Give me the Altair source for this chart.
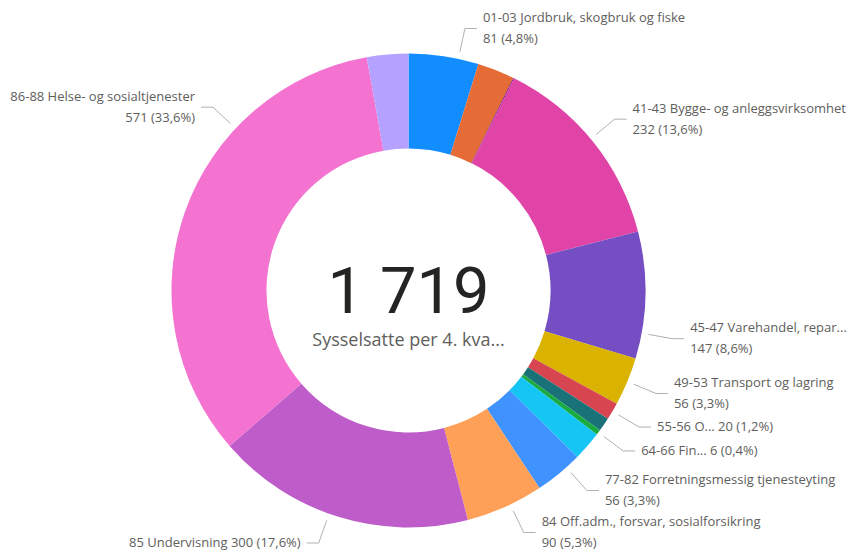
import math
import altair as alt
import pandas as pd

# ---------------- data ----------------
categories = [
    "01-03 Jordbruk, skogbruk og fiske",
    "10-33 Industri",
    "35-39 Elektrisitet, vann og renovasjon",
    "41-43 Bygge- og anleggsvirksomhet",
    "45-47 Varehandel, reparasjon av motorvogner",
    "49-53 Transport og lagring",
    "55-56 Overnattings- og serveringsvirksomhet",
    "58-63 Informasjon og kommunikasjon",
    "64-66 Finansiering og forsikring",
    "68-75 Teknisk tjenesteyting, eiendomsdrift",
    "77-82 Forretningsmessig tjenesteyting",
    "84 Off.adm., forsvar, sosialforsikring",
    "85 Undervisning",
    "86-88 Helse- og sosialtjenester",
    "90-99 Personlig tjenesteyting",
]
values = [81, 43, 1, 232, 147, 56, 20, 16, 6, 34, 56, 90, 300, 571, 48]
colors = ["#118DFF", "#E66C37", "#6B007B", "#E044A7", "#744EC2", "#D9B300",
          "#D64550", "#197278", "#1AAB40", "#15C6F4", "#4092FF", "#FFA058",
          "#BE5DC9", "#F472D0", "#B5A1FF"]
label_line1 = [
    "01-03 Jordbruk, skogbruk og fiske", "", "",
    "41-43 Bygge- og anleggsvirksomhet", "45-47 Varehandel, repar...",
    "49-53 Transport og lagring", "55-56 O... 20 (1,2%)", "",
    "64-66 Fin... 6 (0,4%)", "", "77-82 Forretningsmessig tjenesteyting",
    "84 Off.adm., forsvar, sosialforsikring", "85 Undervisning 300 (17,6%)",
    "86-88 Helse- og sosialtjenester", "",
]
label_line2 = [
    "81 (4,8%)", "", "", "232 (13,6%)", "147 (8,6%)", "56 (3,3%)", "", "",
    "", "", "56 (3,3%)", "90 (5,3%)", "", "571 (33,6%)", "",
]
center_value = "1 719"
center_caption = "Sysselsatte per 4. kva..."

# ---------------- layout ----------------
W, H = 840, 543
CX, CY = 400.5, 282.5          # donut centre inside the view (px)
R_OUT, R_IN = 237, 142
R_LINE0, R_ELBOW, H_SEG, TXT_GAP = 244, 268, 12, 6
FS = 13
LINE_H = 21
EDGE_TOP, EDGE_BOT = 10, 8
X_MIN, X_MAX = -CX + 2, W - CX - 1
Y_TOP, Y_BOT = CY - EDGE_TOP, -(H - CY) + EDGE_BOT

# approximate advance widths (em) of the label font
_EM = {' ': .26, '-': .322, ',': .245, '.': .266, '(': .297, ')': .297, '%': .823,
       'a': .556, 'b': .613, 'c': .476, 'd': .613, 'e': .561, 'f': .339, 'g': .548,
       'h': .614, 'i': .253, 'j': .253, 'k': .525, 'l': .253, 'm': .930, 'n': .614,
       'o': .604, 'p': .613, 'q': .613, 'r': .408, 's': .477, 't': .353, 'u': .614,
       'v': .501, 'w': .778, 'x': .507, 'y': .503, 'z': .468,
       'B': .642, 'F': .549, 'H': .742, 'J': .281, 'O': .781, 'V': .606, 'S': .55}


def text_w(s):
    return FS * sum(_EM.get(ch, .572 if ch.isdigit() else .62) for ch in s)


slices = pd.DataFrame({"category": categories, "value": values,
                       "idx": list(range(len(values)))})

total = float(sum(values))
labels = []
cum = 0.0
for i, v in enumerate(values):
    a0 = cum / total * 360.0
    a1 = (cum + v) / total * 360.0
    cum += v
    if not label_line1[i]:
        continue
    mid = (a0 + a1) / 2
    lo, hi = (a0 + 1, a1 - 1) if a1 - a0 > 2 else (mid, mid)
    right = mid < 180
    n = 2 if label_line2[i] else 1
    width = max(text_w(label_line1[i]), text_w(label_line2[i]))

    def fits(a, right=right, width=width):
        ex = R_ELBOW * math.sin(math.radians(a))
        if right:
            return ex + H_SEG + TXT_GAP + width <= X_MAX
        return ex - H_SEG - TXT_GAP - width >= X_MIN

    a = mid
    if not fits(a):
        towards_hi = (right and mid >= 90) or ((not right) and mid >= 270)
        b = mid
        while lo <= b <= hi:
            b = b + 0.25 if towards_hi else b - 0.25
            if lo <= b <= hi and fits(b):
                a = b
                break
    labels.append(dict(i=i, a=a, lo=lo, hi=hi, right=right, n=n,
                       y=R_ELBOW * math.cos(math.radians(a)), moved=False))

# keep label blocks apart and inside the view
for side in (True, False):
    items = [l for l in labels if l["right"] == side]
    items.sort(key=lambda l: -l["y"])
    half = lambda l: (l["n"] - 1) * LINE_H / 2

    def sety(l, y):
        if abs(y - l["y"]) > 1e-9:
            l["y"] = y
            l["moved"] = True

    for l in items:
        sety(l, min(max(l["y"], Y_BOT + half(l)), Y_TOP - half(l)))
    for k in range(1, len(items)):
        p, l = items[k - 1], items[k]
        need = p["y"] - (p["n"] + l["n"]) * LINE_H / 2
        if l["y"] > need:
            sety(l, need)
    if items and items[-1]["y"] < Y_BOT + half(items[-1]):
        sety(items[-1], Y_BOT + half(items[-1]))
    for k in range(len(items) - 2, -1, -1):
        l, q = items[k], items[k + 1]
        need = q["y"] + (l["n"] + q["n"]) * LINE_H / 2
        if l["y"] < need:
            sety(l, need)
    for l in items:
        if l["moved"]:
            c = max(-1.0, min(1.0, l["y"] / R_ELBOW))
            a = math.degrees(math.acos(c))
            if not side:
                a = 360 - a
            l["a"] = min(max(a, l["lo"]), l["hi"])

seg_rows, txt_rows = [], []
for l in labels:
    i = l["i"]
    r = math.radians(l["a"])
    x0, y0 = R_LINE0 * math.sin(r), R_LINE0 * math.cos(r)
    xe, ye = R_ELBOW * math.sin(r), R_ELBOW * math.cos(r)
    sgn = 1 if l["right"] else -1
    seg_rows.append(dict(x=x0, y=y0, x2=xe, y2=ye))
    seg_rows.append(dict(x=xe, y=ye, x2=xe + sgn * H_SEG, y2=ye))
    tx = xe + sgn * (H_SEG + TXT_GAP)
    side = "right" if l["right"] else "left"
    if l["n"] == 2:
        txt_rows.append(dict(x=tx, y=ye + LINE_H / 2, text=label_line1[i], side=side))
        txt_rows.append(dict(x=tx, y=ye - LINE_H / 2, text=label_line2[i], side=side))
    else:
        txt_rows.append(dict(x=tx, y=ye, text=label_line1[i], side=side))

seg_df = pd.DataFrame(seg_rows)
txt_df = pd.DataFrame(txt_rows)

xs = alt.Scale(domain=[-CX, W - CX], nice=False, zero=False)
ys = alt.Scale(domain=[-(H - CY), CY], nice=False, zero=False)

arcs = alt.Chart(slices).mark_arc(
    innerRadius=R_IN, outerRadius=R_OUT, strokeWidth=0
).encode(
    theta=alt.Theta("value:Q", stack=True),
    order=alt.Order("idx:Q", sort="ascending"),
    color=alt.Color("category:N", scale=alt.Scale(domain=categories, range=colors), legend=None),
    x=alt.XDatum(0, type="quantitative", scale=xs, axis=None),
    y=alt.YDatum(0, type="quantitative", scale=ys, axis=None),
)

rules = alt.Chart(seg_df).mark_rule(color="#B3B0AD", strokeWidth=1).encode(
    x=alt.X("x:Q", scale=xs, axis=None),
    y=alt.Y("y:Q", scale=ys, axis=None),
    x2="x2:Q",
    y2="y2:Q",
)

text_style = dict(font="Segoe UI, Open Sans", fontSize=FS, color="#605E5C", baseline="middle")
txt_right = alt.Chart(txt_df).transform_filter(alt.datum.side == "right").mark_text(
    align="left", **text_style
).encode(
    x=alt.X("x:Q", scale=xs, axis=None),
    y=alt.Y("y:Q", scale=ys, axis=None),
    text="text:N",
)
txt_left = alt.Chart(txt_df).transform_filter(alt.datum.side == "left").mark_text(
    align="right", **text_style
).encode(
    x=alt.X("x:Q", scale=xs, axis=None),
    y=alt.Y("y:Q", scale=ys, axis=None),
    text="text:N",
)

center_df = pd.DataFrame({"t": [center_value]})
caption_df = pd.DataFrame({"t": [center_caption]})
center_txt = alt.Chart(center_df).mark_text(
    font="Roboto", fontSize=65, color="#252423", baseline="alphabetic", align="center", dy=22
).encode(
    x=alt.XDatum(0, type="quantitative", scale=xs, axis=None),
    y=alt.YDatum(0, type="quantitative", scale=ys, axis=None),
    text="t:N",
)
caption_txt = alt.Chart(caption_df).mark_text(
    font="Segoe UI, Open Sans", fontSize=18, color="#605E5C", baseline="middle", align="center", dy=50
).encode(
    x=alt.XDatum(0, type="quantitative", scale=xs, axis=None),
    y=alt.YDatum(0, type="quantitative", scale=ys, axis=None),
    text="t:N",
)

chart = alt.layer(arcs, rules, txt_right, txt_left, center_txt, caption_txt).properties(
    width=W, height=H, padding=0, autosize=alt.AutoSizeParams(type="none"),
    background="white",
).configure_view(stroke=None)

chart.save("out.html", embed_options={"renderer": "svg", "actions": False})
